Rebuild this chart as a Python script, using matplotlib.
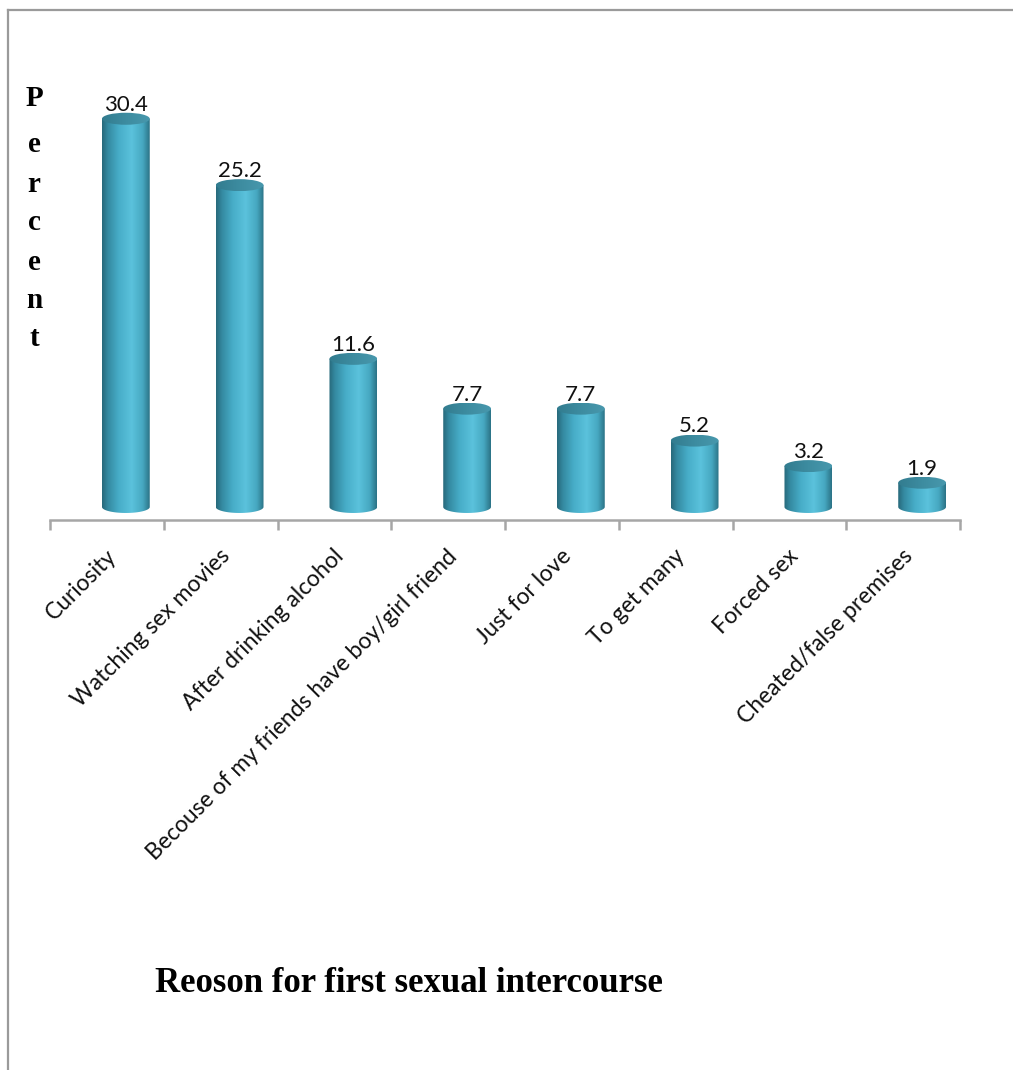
import numpy as np
import matplotlib
matplotlib.use("Agg")
import matplotlib.pyplot as plt
from matplotlib.path import Path
from matplotlib.patches import PathPatch, Ellipse
from matplotlib.colors import LinearSegmentedColormap
from matplotlib.lines import Line2D

categories = ["Curiosity", "Watching sex movies", "After drinking alcohol",
              "Becouse of my friends have boy/girl friend", "Just for love",
              "To get many", "Forced sex", "Cheated/false premises"]
values = [30.4, 25.2, 11.6, 7.7, 7.7, 5.2, 3.2, 1.9]
value_labels = ["30.4", "25.2", "11.6", "7.7", "7.7", "5.2", "3.2", "1.9"]
title = "Reoson for first sexual intercourse"
ylabel = "Percent"

W, H = 1013, 1070
fig = plt.figure(figsize=(W / 100, H / 100), dpi=100)

def fx(px):
    return px / W

def fy(py):
    return 1 - py / H

# outer frame
fig.add_artist(Line2D([fx(8), fx(8)], [fy(10), 0], transform=fig.transFigure, color="#9a9a9a", lw=1.6))
fig.add_artist(Line2D([fx(8), 1], [fy(10), fy(10)], transform=fig.transFigure, color="#9a9a9a", lw=1.6))

n = len(categories)
off = 0.167
ax_left, ax_right = 50, 960
ax_top, ax_bot = 60, 520
ax = fig.add_axes([fx(ax_left), fy(ax_bot), fx(ax_right - ax_left), (ax_bot - ax_top) / H])
ymin, ymax = -1.02, 35.0
ax.set_xlim(-0.5 - off, n - 0.5 - off)
ax.set_ylim(ymin, ymax)
for s in ["top", "right", "left"]:
    ax.spines[s].set_visible(False)
ax.spines["bottom"].set_color("#a6a6a6")
ax.spines["bottom"].set_linewidth(1.8)
ax.set_yticks([])
ax.set_xticks(np.arange(n + 1) - 0.5 - off)
ax.set_xticklabels([])
ax.tick_params(axis="x", direction="out", length=7, width=1.8, color="#a6a6a6")

xs = np.arange(n)
bw = 0.42
px_per_unit = (ax_bot - ax_top) / (ymax - ymin)
eh = 12.0 / px_per_unit

cmap = LinearSegmentedColormap.from_list("cyl", [
    (0.0, "#27687a"), (0.12, "#3489a0"), (0.35, "#47adc8"),
    (0.62, "#5bc2dc"), (0.85, "#46a8c1"), (1.0, "#2b7285")])
grad = np.linspace(0, 1, 256).reshape(1, -1)
cmap_top = LinearSegmentedColormap.from_list("cyltop", [
    (0.0, "#327c8f"), (0.5, "#3d8ca0"), (1.0, "#4898ad")])

bars = ax.bar(xs, values, width=bw, color="none", edgecolor="none")
for i, (b, v) in enumerate(zip(bars, values)):
    x0 = b.get_x()
    x1 = x0 + b.get_width()
    xc = (x0 + x1) / 2
    t = np.linspace(np.pi, 2 * np.pi, 60)
    arc_x = xc + (bw / 2) * np.cos(t)
    arc_y = (eh / 2) * np.sin(t)
    verts = [(x0, v)] + list(zip(arc_x, arc_y)) + [(x1, v), (x0, v)]
    codes = [Path.MOVETO] + [Path.LINETO] * (len(verts) - 2) + [Path.CLOSEPOLY]
    body = PathPatch(Path(verts, codes), facecolor="none", edgecolor="none")
    ax.add_patch(body)
    im = ax.imshow(grad, cmap=cmap, aspect="auto", extent=(x0, x1, -eh / 2, v),
                   interpolation="bicubic", zorder=2)
    im.set_clip_path(body)
    top = Ellipse((xc, v), bw, eh, facecolor="none", edgecolor="none", zorder=3)
    ax.add_patch(top)
    im2 = ax.imshow(grad, cmap=cmap_top, aspect="auto", extent=(x0, x1, v - eh / 2, v + eh / 2),
                    interpolation="bicubic", zorder=3)
    im2.set_clip_path(top)
    ax.text(xc, v + eh / 2 - 0.15, value_labels[i], ha="center", va="bottom",
            fontsize=16, family="Lato", color="#111111", zorder=4)

ax.set_xlim(-0.5 - off, n - 0.5 - off)
ax.set_ylim(ymin, ymax)

# category labels
for i, c in enumerate(categories):
    ax.annotate(c, xy=(xs[i] - off, 0), xycoords=("data", "axes fraction"),
                xytext=(6, -33), textcoords="offset pixels",
                ha="right", va="center", rotation=45, rotation_mode="anchor",
                fontsize=16.5, family="Lato", color="#111111", annotation_clip=False)

# vertical y label
letter_y = [99, 144, 184, 222, 262, 301, 338]
for ch, py in zip(ylabel, letter_y):
    fig.text(fx(34), fy(py), ch, ha="center", va="center", fontsize=21,
             fontweight="bold", family="Liberation Serif", color="#000000")

fig.text(fx(409), fy(984), title, ha="center", va="center", fontsize=25,
         fontweight="bold", family="Liberation Serif", color="#000000")

fig.savefig("out.png", dpi=100)
